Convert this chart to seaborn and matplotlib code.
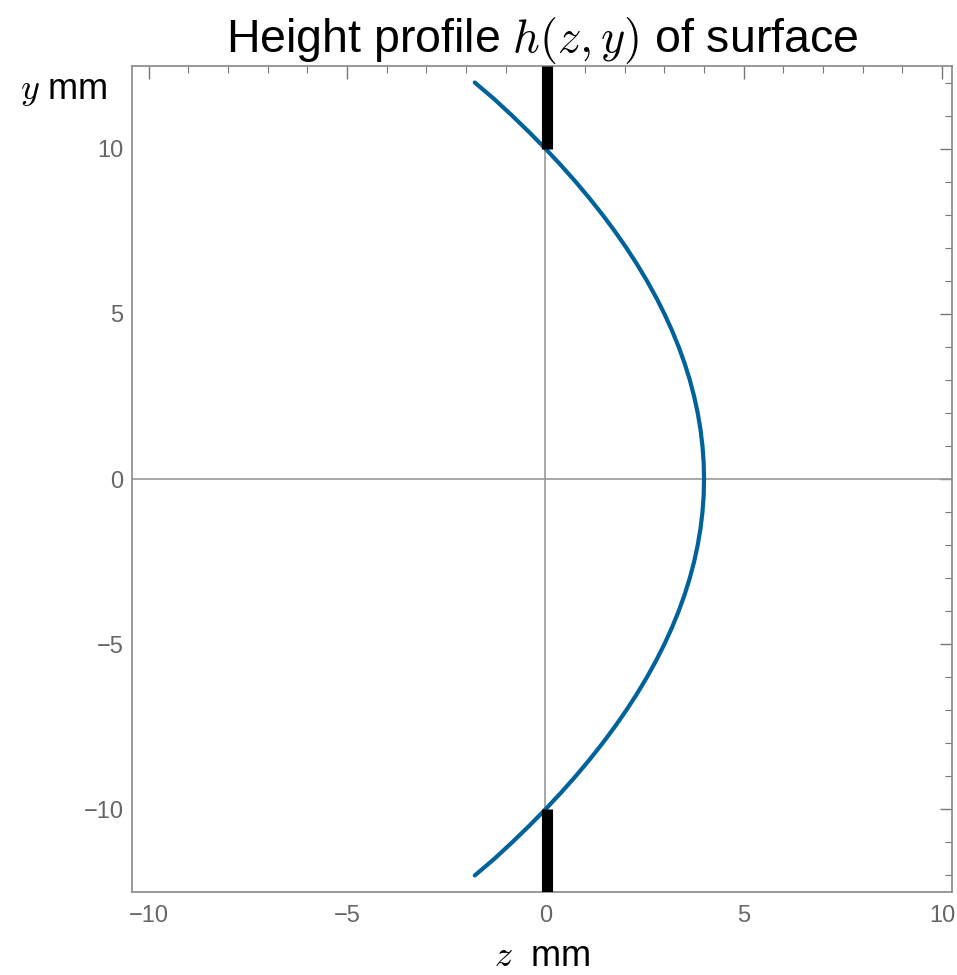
import matplotlib
matplotlib.use("Agg")
import matplotlib.pyplot as plt
import seaborn as sns
from matplotlib.ticker import MultipleLocator

# surface profile: y (mm) and height z (mm)
y_mm = [-12.0, -11.5, -11.0, -10.5, -10.0, -9.5, -9.0, -8.5, -8.0, -7.5, -7.0, -6.5,
        -6.0, -5.5, -5.0, -4.5, -4.0, -3.5, -3.0, -2.5, -2.0, -1.5, -1.0, -0.5,
        0.0, 0.5, 1.0, 1.5, 2.0, 2.5, 3.0, 3.5, 4.0, 4.5, 5.0, 5.5,
        6.0, 6.5, 7.0, 7.5, 8.0, 8.5, 9.0, 9.5, 10.0, 10.5, 11.0, 11.5, 12.0]
z_mm = [-1.78, -1.29, -0.84, -0.41, 0.00, 0.39, 0.76, 1.11, 1.44, 1.75, 2.04, 2.31,
        2.56, 2.79, 3.00, 3.19, 3.36, 3.51, 3.64, 3.75, 3.84, 3.91, 3.96, 3.99,
        4.00, 3.99, 3.96, 3.91, 3.84, 3.75, 3.64, 3.51, 3.36, 3.19, 3.00, 2.79,
        2.56, 2.31, 2.04, 1.75, 1.44, 1.11, 0.76, 0.39, 0.00, -0.41, -0.84, -1.29, -1.78]

# aperture stops (black bars)
stop_z = 0.05
stop_top = [10.0, 12.5]
stop_bottom = [-12.5, -10.0]

sns.set_style("white")
plt.rcParams["font.family"] = ["Liberation Sans", "DejaVu Sans"]
plt.rcParams["mathtext.fontset"] = "cm"
plt.rcParams["text.color"] = "black"
plt.rcParams["axes.labelcolor"] = "black"

fig = plt.figure(figsize=(9.57, 9.75), dpi=100)
ax = fig.add_axes([132/957, 83/975, 820/957, 826/975])

# axes through origin
ax.axhline(0, color="#999999", lw=1.2, zorder=1)
ax.axvline(0, color="#999999", lw=1.2, zorder=1)

# surface curve
sns.lineplot(x=z_mm, y=y_mm, sort=False, estimator=None, color="#00629b",
             lw=3.0, ax=ax, zorder=3)

# stops
ax.plot([stop_z, stop_z], stop_top, color="black", lw=8, solid_capstyle="butt", zorder=4)
ax.plot([stop_z, stop_z], stop_bottom, color="black", lw=8, solid_capstyle="butt", zorder=4)

ax.set_xlim(-10.42, 10.25)
ax.set_ylim(-12.5, 12.5)

ax.xaxis.set_major_locator(MultipleLocator(5))
ax.xaxis.set_minor_locator(MultipleLocator(1))
ax.yaxis.set_major_locator(MultipleLocator(5))
ax.yaxis.set_minor_locator(MultipleLocator(1))
ax.set_xticks([-10, -5, 0, 5, 10])
ax.set_yticks([-10, -5, 0, 5, 10])
ax.set_xticklabels(["\u221210", "\u22125", "0", "5", "10"])
ax.set_yticklabels(["\u221210", "\u22125", "0", "5", "10"])

ax.tick_params(which="both", direction="in", top=True, right=True,
               color="#777777", labelcolor="#666666", labelsize=17)
ax.tick_params(which="major", length=9, width=1)
ax.tick_params(which="minor", length=5, width=0.8)
ax.tick_params(axis="x", pad=9)
ax.tick_params(axis="y", pad=6)

for s in ax.spines.values():
    s.set_color("#888888")
    s.set_linewidth(1.2)

ax.set_title("Height profile $h(z,y)$ of surface", fontsize=33.5, pad=10, color="black")
ax.set_xlabel("$z$  mm", fontsize=26, labelpad=9)
ax.set_ylabel("$y$ mm", fontsize=26, rotation=0, va="center")
ax.yaxis.set_label_coords(-0.083, 0.97)

fig.savefig("out.png", dpi=100)
